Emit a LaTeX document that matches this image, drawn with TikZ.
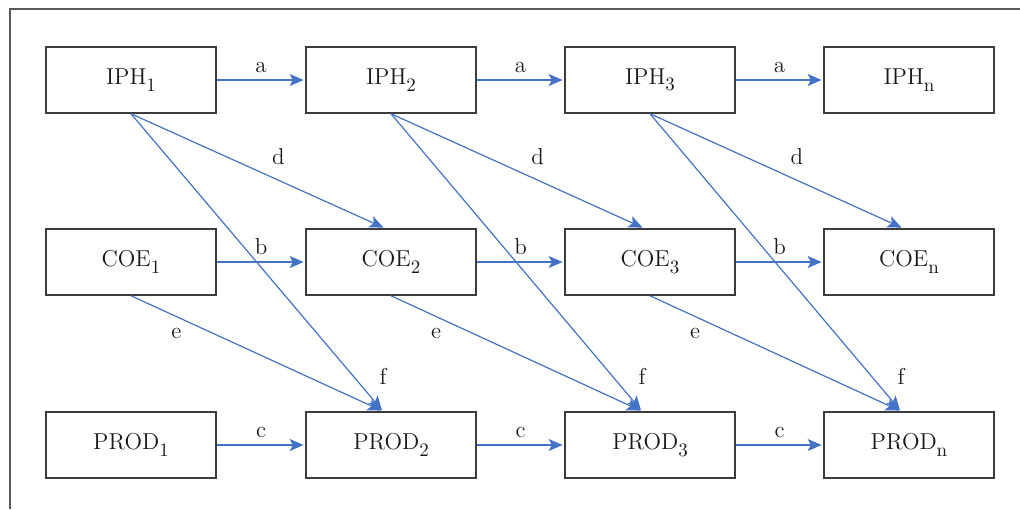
\documentclass[tikz,border=0pt]{standalone}
\usetikzlibrary{arrows.meta}
\definecolor{linkblue}{RGB}{68,114,196}
\definecolor{edgegray}{RGB}{60,60,60}
\newcommand\lowidx[1]{\raisebox{-3.3pt}{\fontsize{9.5}{10}\selectfont #1}}

\begin{document}
\begin{tikzpicture}[x=.5pt,y=-.5pt,
  box/.style={draw=edgegray, line width=.75pt, minimum width=85pt, minimum height=33pt, inner sep=0pt, text=black!90, font=\fontsize{11.5}{13}\selectfont},
  link/.style={draw=linkblue, line width=.6pt, shorten >=.8pt, -{Stealth[length=7pt,width=6pt,inset=1.6pt]}},
  lbl/.style={text=black!90, font=\fontsize{11.5}{13}\selectfont}]
\useasboundingbox (0,0) rectangle (1020,509);
% frame
\draw[edgegray!85, line width=.75pt] (1020,9) -- (10,9) -- (10,509);
% boxes
\foreach \i/\x/\s in {1/131/1, 2/391/2, 3/650/3, 4/909/n} {
  \node[box] (iph\i) at (\x,80) {IPH\lowidx{\s}};
  \node[box] (coe\i) at (\x,262) {COE\lowidx{\s}};
  \node[box] (prod\i) at (\x,445) {PROD\lowidx{\s}};
  \coordinate (cin\i) at ([xshift=-3pt]coe\i.north);
  \coordinate (pin\i) at ([xshift=-4pt]prod\i.north);
}
% links
\foreach \i/\j in {1/2, 2/3, 3/4} {
  \draw[link] (iph\i) -- node[lbl, above] {a} (iph\j);
  \draw[link] (coe\i) -- node[lbl, above] {b} (coe\j);
  \draw[link] (prod\i) -- node[lbl, above] {c} (prod\j);
  \draw[link] (iph\i.south) -- node[lbl, pos=.58, above=4pt] {d} (cin\j);
  \draw[link] (coe\i.south) -- node[lbl, pos=.18, below=2pt] {e} (pin\j);
  \draw[link] (iph\i.south) -- node[lbl, pos=1, above=9.5pt] {f} (pin\j);
}
\end{tikzpicture}
\end{document}
